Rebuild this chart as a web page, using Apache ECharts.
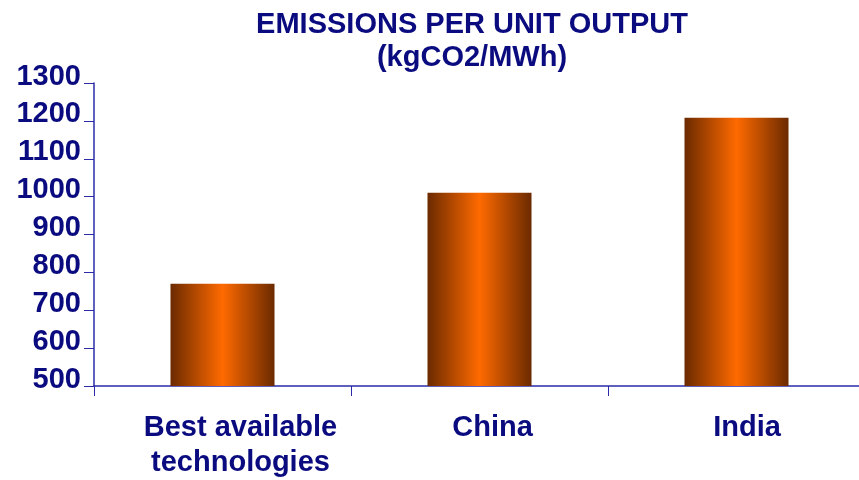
<!DOCTYPE html>
<html>
<head>
<meta charset="utf-8">
<script src="https://cdn.jsdelivr.net/npm/echarts@6/dist/echarts.min.js"></script>
<style>
  html, body { margin: 0; padding: 0; background: #fff; overflow: hidden; }
  #chart { width: 865px; height: 480px; }
</style>
</head>
<body>
<div id="chart"></div>
<script>
const categories = ['Best available\ntechnologies', 'China', 'India'];
const emissions = [770, 1010, 1208];
const yMin = 500;
const yMax = 1300;
const yStep = 100;

const navy = '#0b0b80';
const axisBlue = '#2b2ba8';
const font = 'Liberation Sans, Arial, sans-serif';

// label nudges to line up with the original slide text
const labelPad = [36, 26, 21];

const chart = echarts.init(document.getElementById('chart'));

const barGradient = new echarts.graphic.LinearGradient(0, 0, 1, 0, [
  { offset: 0, color: '#6b2a00' },
  { offset: 0.5, color: '#ff6a00' },
  { offset: 1, color: '#6b2a00' },
]);

chart.setOption({
  animation: false,
  title: {
    text: 'EMISSIONS PER UNIT OUTPUT\n(kgCO2/MWh)',
    left: 467,
    textAlign: 'center',
    top: 3,
    textStyle: {
      color: navy,
      fontFamily: font,
      fontWeight: 'bold',
      fontSize: 29,
      lineHeight: 33,
    },
  },
  grid: {
    left: 94,
    right: 0,
    top: 83,
    bottom: 91,
  },
  xAxis: {
    type: 'category',
    data: categories.map((c, i) => ({
      value: c,
      textStyle: { padding: [0, 0, 0, labelPad[i]] },
    })),
    axisLine: { show: true, lineStyle: { color: axisBlue, width: 1.5 } },
    axisTick: { show: true, length: 10, lineStyle: { color: axisBlue } },
    axisLabel: {
      color: navy,
      fontFamily: font,
      fontWeight: 'bold',
      fontSize: 29,
      lineHeight: 35,
      margin: 24,
    },
  },
  yAxis: {
    type: 'value',
    min: yMin,
    max: yMax,
    interval: yStep,
    axisLine: { show: true, lineStyle: { color: axisBlue, width: 1.5 } },
    axisTick: { show: true, length: 10, lineStyle: { color: axisBlue } },
    splitLine: { show: false },
    axisLabel: {
      color: navy,
      fontFamily: font,
      fontWeight: 'bold',
      fontSize: 29,
      margin: 13,
      verticalAlign: 'bottom',
      lineHeight: 13,
      formatter: (v) => String(v),
    },
  },
  series: [
    {
      name: 'Emissions',
      type: 'bar',
      data: emissions,
      barWidth: 104,
      itemStyle: { color: barGradient },
    },
  ],
});
</script>
</body>
</html>
